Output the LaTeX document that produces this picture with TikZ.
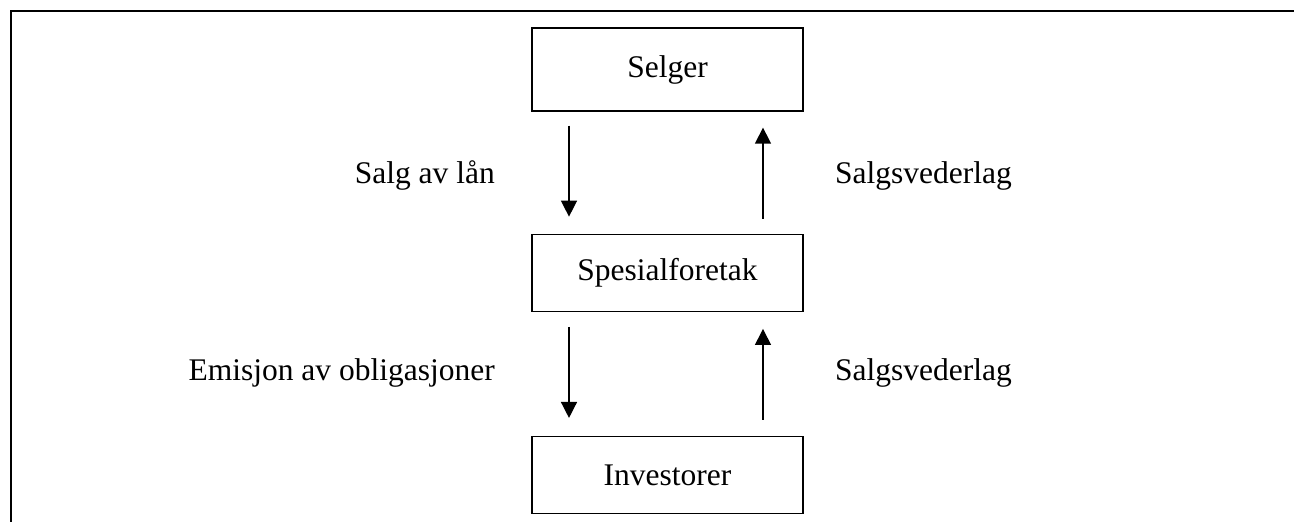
\documentclass[tikz,border=0pt]{standalone}
\usepackage{fontspec}
\setmainfont{Liberation Serif}
\usetikzlibrary{positioning,arrows.meta}

\begin{document}
\begin{tikzpicture}[x=1pt,y=1pt,
		boks/.style={draw, line width=1.3pt, minimum width=271pt, minimum height=77pt,
			font=\fontsize{31.5}{38}\selectfont},
		tekst/.style={font=\fontsize{31.5}{38}\selectfont, inner sep=0pt},
		pil/.style={line width=1.4pt, -{Triangle[width=16pt,length=16pt]}}]
	\useasboundingbox (0,0) rectangle (1294,-522);
	%% ramme
	\draw[line width=2pt] (1294,-10.5) -- (11,-10.5) -- (11,-522);
	% bokser
	\node[boks, minimum height=83pt] (sel) at (667.5,-69.5) {Selger};
	\node[boks, below=122pt of sel] (spe) {Spesialforetak};
	\node[boks, below=124pt of spe] (inv) {Investorer};
	% piler mellom boksene
	\draw[pil, shorten <=14pt, shorten >=17pt] ([xshift=-98.5pt]sel.south) -- ([xshift=-98.5pt]spe.north);
	\draw[pil, shorten <=15pt, shorten >=16pt] ([xshift=95.5pt]spe.north) -- ([xshift=95.5pt]sel.south);
	\draw[pil, shorten <=15pt, shorten >=18pt] ([xshift=-98.5pt]spe.south) -- ([xshift=-98.5pt]inv.north);
	\draw[pil, shorten <=16pt, shorten >=17pt] ([xshift=95.5pt]inv.north) -- ([xshift=95.5pt]spe.south);
	% tekster
	\node[tekst, anchor=base east] (salg) at (495,-183) {Salg av lån};
	\node[tekst, anchor=base west] (vederlag1) at (835,-183) {Salgsvederlag};
	\node[tekst, anchor=base east] (emisjon) at (495,-380) {Emisjon av obligasjoner};
	\node[tekst, anchor=base west] (vederlag2) at (835,-380) {Salgsvederlag};
\end{tikzpicture}
\end{document}
